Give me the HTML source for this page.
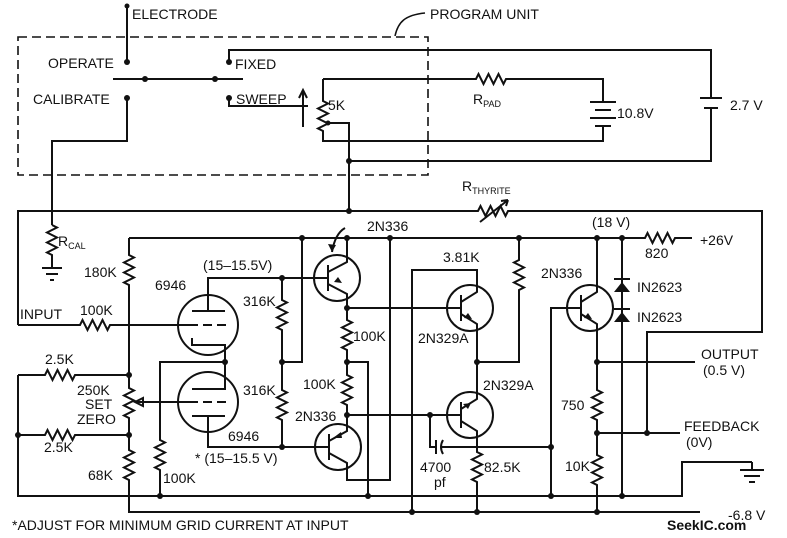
<!DOCTYPE html>
<html><head><meta charset="utf-8"><style>
html,body{margin:0;padding:0;background:#fff}
svg{display:block}
text{font-family:"Liberation Sans",sans-serif;font-size:14px;fill:#111}
</style></head><body>
<svg width="787" height="538" viewBox="0 0 787 538" xmlns="http://www.w3.org/2000/svg">
<g fill="none" stroke="#111" stroke-width="2">
<!-- program unit dashed -->
<rect x="18" y="37" width="410" height="138" stroke-dasharray="9,5" stroke-width="1.6"/>
<path d="M395,36 C398,22 405,15 425,13" stroke-width="1.5"/>
<!-- electrode -->
<path d="M127,6 V62"/>
<path d="M113,79 H243"/>
<path d="M127,98 V141 H52 V225"/>
<path d="M229,98 V106 H308"/>
<path d="M303,127 V92 M299,98 L303,90 L307,98"/>
<path d="M229,62 V50 H711 V98 M700,98 H722 M704,108 H718 M711,108 V161 H349"/>
<path d="M323,79 H476 l2.5,-5 l5,10 l5,-10 l5,10 l5,-10 l5,10 l2.5,-5 H603 V102 M590,102 H616 M595,110 H611 M590,118 H616 M595,126 H611 M603,126 V141 H323 V131 l-5,-2.5 l10,-5 l-10,-5 l10,-5 l-10,-5 l10,-5 l-5,-2.5 V79"/>
<path d="M328,123 H349 V211"/>
<!-- main box -->
<path d="M18,325 V211 H478 l2.5,-5 l5,10 l5,-10 l5,10 l5,-10 l5,10 l2.5,-5 H762 V332 H647 V433"/>
<path d="M480,222 L508,200 M508,200 l-7,1 M508,200 l-2,6"/>
<!-- Rcal -->
<path d="M52,225 l5,2.5 l-10,5 l10,5 l-10,5 l10,5 l-10,5 l5,2.5 V268 M42,268 H62 M46,274 H58 M50,280 H54"/>
<!-- input -->
<path d="M18,325 H80 l2.5,-5 l5,10 l5,-10 l5,10 l5,-10 l5,10 l2.5,-5 H192"/>
<!-- rail -->
<path d="M129,238 H620 H645 l2.5,-5 l5,10 l5,-10 l5,10 l5,-10 l5,10 l2.5,-5 H692"/>
<!-- left vertical -->
<path d="M129,238 V255 l5,2.5 l-10,5 l10,5 l-10,5 l10,5 l-10,5 l5,2.5 V388 l5,2.5 l-10,5 l10,5 l-10,5 l10,5 l-10,5 l5,2.5 V450 l5,2.5 l-10,5 l10,5 l-10,5 l10,5 l-10,5 l5,2.5 V512 H598 H700"/>
<path d="M18,375 H45 l2.5,-5 l5,10 l5,-10 l5,10 l5,-10 l5,10 l2.5,-5 H129"/>
<path d="M18,375 V496 H623 H682 V462 H752"/>
<path d="M18,435 H45 l2.5,-5 l5,10 l5,-10 l5,10 l5,-10 l5,10 l2.5,-5 H129"/>
<path d="M752,462 V470 M740,470 H764 M744,476 H760 M749,482 H755"/>
<path d="M135,402 H192 M135,402 l8,-4 v8 z"/>
<!-- tubes -->
<circle cx="208" cy="325" r="30"/>
<circle cx="208" cy="402" r="30"/>
<path d="M192,311 H225 M208,311 V278 H282"/>
<path d="M192,325 H198 M203,325 H212 M217,325 H226" />
<path d="M192,338 V345 H225 V362 M192,389 H225 V362"/>
<path d="M226,362 H160 V440 l5,2.5 l-10,5 l10,5 l-10,5 l10,5 l-10,5 l5,2.5 V496"/>
<path d="M192,402 H198 M203,402 H212 M217,402 H226"/>
<path d="M192,416 H225 M208,416 V447 H282"/>
<!-- 316K -->
<path d="M282,278 V300 l5,2.5 l-10,5 l10,5 l-10,5 l10,5 l-10,5 l5,2.5 V390 l5,2.5 l-10,5 l10,5 l-10,5 l10,5 l-10,5 l5,2.5 V447"/>
<path d="M282,362 H302 V238"/>
<!-- Q1 -->
<circle cx="337" cy="278" r="23"/>
<path d="M282,278 H328 M328,265 V291 M328,272 L347,262 V238 M328,284 L347,294 V308 H460"/>
<path d="M347,308 V320 l5,2.5 l-10,5 l10,5 l-10,5 l10,5 l-10,5 l5,2.5 V375 l5,2.5 l-10,5 l10,5 l-10,5 l10,5 l-10,5 l5,2.5 V415 H430"/>
<path d="M347,362 H368 V496"/>
<path d="M345,228 C338,232 334,240 332,252"/>
<!-- Q2 -->
<circle cx="338" cy="447" r="23"/>
<path d="M282,447 H329 M329,434 V460 M329,441 L347,431 V415 M329,453 L347,463 V480 H390 V238"/>
<!-- Q3 -->
<circle cx="470" cy="308" r="23"/>
<path d="M460,308 H461 M461,295 V321 M461,302 L477,292 V270 H412 V512 M461,314 L477,324 V362 H519 V290 l5,-2.5 l-10,-5 l10,-5 l-10,-5 l10,-5 l-10,-5 l5,-2.5 V238"/>
<path d="M390,308 H461"/>
<!-- Q4 -->
<circle cx="470" cy="415" r="23"/>
<path d="M430,415 H461 M461,402 V428 M461,409 L477,399 V362 M461,421 L477,431 V452 l5,2.5 l-10,5 l10,5 l-10,5 l10,5 l-10,5 l5,2.5 V512"/>
<path d="M430,415 V447 H436 M436,440 V454 M443,440 Q439,447 443,454 M442,447 H551"/>
<!-- Q5 -->
<circle cx="590" cy="308" r="23"/>
<path d="M551,496 V308 H581 M581,295 V321 M581,302 L597,292 V238 M581,314 L597,324 V362 H695"/>
<path d="M597,362 V390 l5,2.5 l-10,5 l10,5 l-10,5 l10,5 l-10,5 l5,2.5 V433 H680 M597,433 V455 l5,2.5 l-10,5 l10,5 l-10,5 l10,5 l-10,5 l5,2.5 V512"/>
<!-- diodes -->
<path d="M622,238 V496"/>
</g>
<g fill="#111" stroke="none">
<path d="M342,283 l-8,-1 l4,-5z"/>
<path d="M333,438 l8,-6 l1,6z"/>
<path d="M472,319 l-8,-1 l4,-5z"/>
<path d="M463,404 l8,-1 l-3,6z"/>
<path d="M592,319 l-8,-1 l4,-5z"/>
<path d="M614,292 h16 l-8,-10z M614,278 h16 v2 h-16z"/>
<path d="M614,322 h16 l-8,-10z M614,308 h16 v2 h-16z"/>
<path d="M332,252 l-4,-8 l8,1z"/>
<g>
<circle cx="127" cy="6" r="2.5"/><circle cx="127" cy="62" r="3"/><circle cx="127" cy="98" r="3"/>
<circle cx="229" cy="62" r="3"/><circle cx="229" cy="98" r="3"/>
<circle cx="145" cy="79" r="3"/><circle cx="215" cy="79" r="3"/>
<circle cx="349" cy="161" r="3"/><circle cx="349" cy="211" r="3"/>
<circle cx="302" cy="238" r="3"/><circle cx="347" cy="238" r="3"/><circle cx="390" cy="238" r="3"/>
<circle cx="519" cy="238" r="3"/><circle cx="597" cy="238" r="3"/><circle cx="622" cy="238" r="3"/>
<circle cx="282" cy="278" r="3"/><circle cx="282" cy="362" r="3"/><circle cx="282" cy="447" r="3"/>
<circle cx="225" cy="362" r="3"/><circle cx="129" cy="375" r="3"/><circle cx="129" cy="435" r="3"/><circle cx="18" cy="435" r="3"/>
<circle cx="347" cy="308" r="3"/><circle cx="347" cy="362" r="3"/><circle cx="347" cy="415" r="3"/>
<circle cx="477" cy="362" r="3"/><circle cx="430" cy="415" r="3"/><circle cx="551" cy="447" r="3"/>
<circle cx="597" cy="362" r="3"/><circle cx="597" cy="433" r="3"/><circle cx="647" cy="433" r="3"/>
<circle cx="160" cy="496" r="3"/><circle cx="368" cy="496" r="3"/><circle cx="551" cy="496" r="3"/><circle cx="622" cy="496" r="3"/>
<circle cx="412" cy="512" r="3"/><circle cx="477" cy="512" r="3"/><circle cx="597" cy="512" r="3"/>
<circle cx="328" cy="123" r="2.5"/>
</g>
</g>
<text x="132" y="19">ELECTRODE</text>
<text x="430" y="19">PROGRAM UNIT</text>
<text x="48" y="68">OPERATE</text>
<text x="33" y="104">CALIBRATE</text>
<text x="235" y="69">FIXED</text>
<text x="236" y="104">SWEEP</text>
<text x="328" y="110">5K</text>
<text x="473" y="104">R<tspan font-size="9" dy="3">PAD</tspan></text>
<text x="617" y="118">10.8V</text>
<text x="730" y="110">2.7 V</text>
<text x="462" y="191">R<tspan font-size="9" dy="3">THYRITE</tspan></text>
<text x="367" y="231">2N336</text>
<text x="592" y="227">(18 V)</text>
<text x="700" y="245">+26V</text>
<text x="645" y="258">820</text>
<text x="58" y="246">R<tspan font-size="9" dy="3">CAL</tspan></text>
<text x="84" y="277">180K</text>
<text x="203" y="270">(15–15.5V)</text>
<text x="155" y="290">6946</text>
<text x="243" y="306">316K</text>
<text x="20" y="319">INPUT</text>
<text x="80" y="315">100K</text>
<text x="353" y="341">100K</text>
<text x="443" y="232" dy="30">3.81K</text>
<text x="541" y="278">2N336</text>
<text x="637" y="292">IN2623</text>
<text x="637" y="322">IN2623</text>
<text x="418" y="343">2N329A</text>
<text x="483" y="390">2N329A</text>
<text x="45" y="364">2.5K</text>
<text x="77" y="395">250K</text>
<text x="85" y="409">SET</text>
<text x="77" y="424">ZERO</text>
<text x="243" y="395">316K</text>
<text x="303" y="389">100K</text>
<text x="295" y="421">2N336</text>
<text x="44" y="452">2.5K</text>
<text x="228" y="441">6946</text>
<text x="195" y="463">* (15–15.5 V)</text>
<text x="88" y="480">68K</text>
<text x="163" y="483">100K</text>
<text x="420" y="472">4700</text>
<text x="434" y="487">pf</text>
<text x="484" y="472">82.5K</text>
<text x="561" y="410">750</text>
<text x="565" y="471">10K</text>
<text x="701" y="359">OUTPUT</text>
<text x="703" y="375">(0.5 V)</text>
<text x="684" y="431">FEEDBACK</text>
<text x="686" y="447">(0V)</text>
<text x="728" y="520">-6.8 V</text>
<text x="12" y="530">*ADJUST  FOR  MINIMUM  GRID  CURRENT  AT  INPUT</text>
<text x="667" y="530" font-weight="bold" font-size="17" fill="#444">SeekIC.com</text>
</svg>
</body></html>
